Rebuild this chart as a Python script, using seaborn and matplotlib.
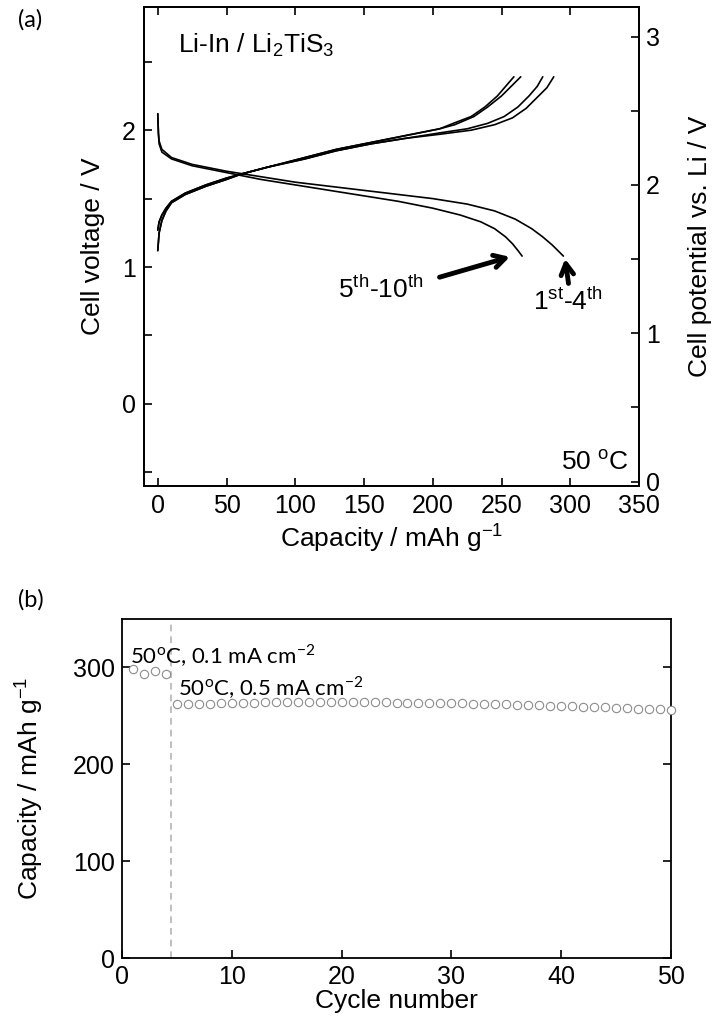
import matplotlib
matplotlib.use('Agg')
import matplotlib.pyplot as plt
from matplotlib.ticker import MultipleLocator
import pandas as pd
import numpy as np
import seaborn as sns

sns.set_style('ticks')
plt.rcParams['font.family'] = ['Liberation Sans', 'DejaVu Sans']
plt.rcParams['mathtext.fontset'] = 'custom'
plt.rcParams['mathtext.rm'] = 'Liberation Sans'
for k in ['text.color', 'axes.labelcolor', 'xtick.color', 'ytick.color']:
    plt.rcParams[k] = 'black'

# (a) charge / discharge curves, cell voltage vs capacity
# discharge, 1st-4th
dis_1_4_cap = [0, 0.5, 1, 3, 10, 25, 50, 75, 100, 125, 150, 175, 200, 225, 245, 260, 272, 280, 287, 292, 295]
dis_1_4_v = [2.12, 1.98, 1.92, 1.86, 1.80, 1.75, 1.70, 1.66, 1.62, 1.59, 1.56, 1.53, 1.50, 1.46, 1.41, 1.35, 1.28, 1.22, 1.16, 1.11, 1.08]
# discharge, 5th-10th
dis_5_10_cap = [0, 0.5, 1, 3, 10, 25, 50, 75, 100, 125, 150, 175, 200, 220, 235, 245, 253, 258, 262, 265]
dis_5_10_v = [2.12, 1.97, 1.90, 1.84, 1.79, 1.74, 1.69, 1.64, 1.60, 1.56, 1.52, 1.48, 1.43, 1.38, 1.33, 1.28, 1.22, 1.17, 1.12, 1.08]
# charge, 1st-4th (two visible traces)
chg_1_4a_cap = [0, 1, 3, 6, 10, 20, 35, 50, 61, 80, 107, 130, 155, 180, 205, 228, 245, 258, 268, 276, 283, 288]
chg_1_4a_v = [1.27, 1.33, 1.38, 1.43, 1.48, 1.54, 1.60, 1.65, 1.68, 1.73, 1.79, 1.85, 1.90, 1.94, 1.97, 2.00, 2.04, 2.09, 2.16, 2.24, 2.31, 2.39]
chg_1_4b_cap = [0, 1, 3, 6, 10, 20, 35, 50, 61, 80, 107, 130, 155, 180, 205, 225, 240, 252, 262, 270, 276, 280]
chg_1_4b_v = [1.27, 1.33, 1.38, 1.43, 1.48, 1.54, 1.60, 1.65, 1.68, 1.73, 1.79, 1.85, 1.90, 1.94, 1.98, 2.01, 2.05, 2.10, 2.17, 2.25, 2.32, 2.39]
# charge, 5th-10th (two visible traces)
chg_5_10a_cap = [0, 1, 3, 6, 10, 20, 35, 50, 61, 80, 107, 130, 155, 180, 205, 216, 230, 240, 250, 257, 264]
chg_5_10a_v = [1.12, 1.25, 1.34, 1.41, 1.47, 1.53, 1.59, 1.64, 1.68, 1.73, 1.80, 1.86, 1.91, 1.96, 2.01, 2.04, 2.10, 2.17, 2.25, 2.32, 2.39]
chg_5_10b_cap = [0, 1, 3, 6, 10, 20, 35, 50, 61, 80, 107, 130, 155, 180, 205, 215, 228, 238, 247, 253, 259]
chg_5_10b_v = [1.12, 1.25, 1.34, 1.41, 1.47, 1.53, 1.59, 1.64, 1.68, 1.73, 1.80, 1.86, 1.91, 1.96, 2.01, 2.05, 2.10, 2.17, 2.25, 2.32, 2.39]

# (b) cycling
cycles = list(range(1, 51))
capacity = [298, 293, 296, 293,
            262, 262, 262, 262, 263, 263, 263, 263, 264, 264,
            264, 264, 264, 264, 264, 264, 264, 264, 264, 264,
            263, 263, 263, 263, 263, 263, 263, 262, 262, 262,
            262, 261, 261, 261, 260, 260, 260, 259, 259, 259,
            258, 258, 257, 257, 257, 256]
rate_switch = 4.5

fig = plt.figure(figsize=(7.27, 10.30), dpi=100)

# ---------- (a) ----------
ax = fig.add_axes([144/727, 1 - 486/1030, (639-144)/727, (486-7)/1030])
curves = [(dis_1_4_cap, dis_1_4_v), (dis_5_10_cap, dis_5_10_v),
          (chg_1_4a_cap, chg_1_4a_v), (chg_1_4b_cap, chg_1_4b_v),
          (chg_5_10a_cap, chg_5_10a_v), (chg_5_10b_cap, chg_5_10b_v)]
for c, v in curves:
    df = pd.DataFrame({'cap': c, 'v': v})
    sns.lineplot(data=df, x='cap', y='v', ax=ax, color='black', lw=1.2,
                 sort=False, estimator=None)
ax.set_xlim(-10, 350)
ax.set_ylim(-0.6, 2.9)
ax.xaxis.set_major_locator(MultipleLocator(50))
ax.yaxis.set_major_locator(MultipleLocator(1))
ax.yaxis.set_minor_locator(MultipleLocator(0.5))
ax.tick_params(which='both', direction='in', length=6, width=1.2, labelsize=18,
               top=True, right=False, pad=6)
ax.set_xlabel('Capacity / mAh g$^{\\mathregular{-1}}$', fontsize=19, labelpad=2)
ax.set_ylabel('Cell voltage / V', fontsize=19, labelpad=12)
for s in ax.spines.values():
    s.set_linewidth(1.3)
    s.set_color('black')

ax2 = ax.twinx()
ax2.set_ylim(-0.03, 3.2)
ax2.yaxis.set_major_locator(MultipleLocator(1))
ax2.yaxis.set_minor_locator(MultipleLocator(0.5))
ax2.tick_params(which='both', direction='in', length=6, width=1.2, labelsize=18, pad=5)
ax2.set_ylabel('Cell potential vs. Li / V', fontsize=19, labelpad=20)
for s in ax2.spines.values():
    s.set_linewidth(1.3)
    s.set_color('black')

ax.text(15, 2.62, 'Li-In / Li$_{\\mathregular{2}}$TiS$_{\\mathregular{3}}$', fontsize=19,
        ha='left', va='center')
ax.text(343, -0.43, '50 $^{\\mathregular{o}}$C', fontsize=19, ha='right', va='center')
ax.annotate('', xy=(258, 1.08), xytext=(203, 0.92),
            arrowprops=dict(arrowstyle='->,head_length=0.8,head_width=0.45', lw=3.5, color='black'))
ax.text(162, 0.84, '5$^{\\mathregular{th}}$-10$^{\\mathregular{th}}$', fontsize=19,
        ha='center', va='center')
ax.annotate('', xy=(296, 1.08), xytext=(299, 0.86),
            arrowprops=dict(arrowstyle='->,head_length=0.8,head_width=0.45', lw=3.5, color='black'))
ax.text(298, 0.75, '1$^{\\mathregular{st}}$-4$^{\\mathregular{th}}$', fontsize=19,
        ha='center', va='center')

fig.text(18/727, 1 - 20/1030, '(a)', fontsize=17, family=['Lato', 'DejaVu Sans'], va='center')

# ---------- (b) ----------
bx = fig.add_axes([122/727, 1 - 958/1030, (671-122)/727, (958-619)/1030])
df_b = pd.DataFrame({'cycle': cycles, 'cap': capacity})
sns.scatterplot(data=df_b, x='cycle', y='cap', ax=bx, marker='o', s=36,
                facecolor='white', edgecolor='#8c8c8c', linewidth=0.8, zorder=3, clip_on=False)
bx.axvline(rate_switch, color='#b4b4b4', lw=1.2, ls=(0, (4, 3)), zorder=1)
bx.set_xlim(0, 50)
bx.set_ylim(0, 350)
bx.xaxis.set_major_locator(MultipleLocator(10))
bx.yaxis.set_major_locator(MultipleLocator(100))
bx.tick_params(direction='in', length=6, width=1.2, labelsize=18, right=True, pad=5)
bx.set_xlabel('Cycle number', fontsize=19, labelpad=0)
bx.set_ylabel('Capacity / mAh g$^{\\mathregular{-1}}$', fontsize=19, labelpad=20)
for s in bx.spines.values():
    s.set_linewidth(1.3)
    s.set_color('black')

bx.text(0.7, 312, '50$^\\mathregular{o}$C, 0.1 mA cm$^\\mathregular{-2}$', fontsize=16,
        family=['Lato', 'DejaVu Sans'], ha='left', va='center')
bx.text(5.1, 279, '50$^\\mathregular{o}$C, 0.5 mA cm$^\\mathregular{-2}$', fontsize=16,
        family=['Lato', 'DejaVu Sans'], ha='left', va='center')

fig.text(18/727, 1 - 600/1030, '(b)', fontsize=17, family=['Lato', 'DejaVu Sans'], va='center')

fig.savefig('out.png', dpi=100)
